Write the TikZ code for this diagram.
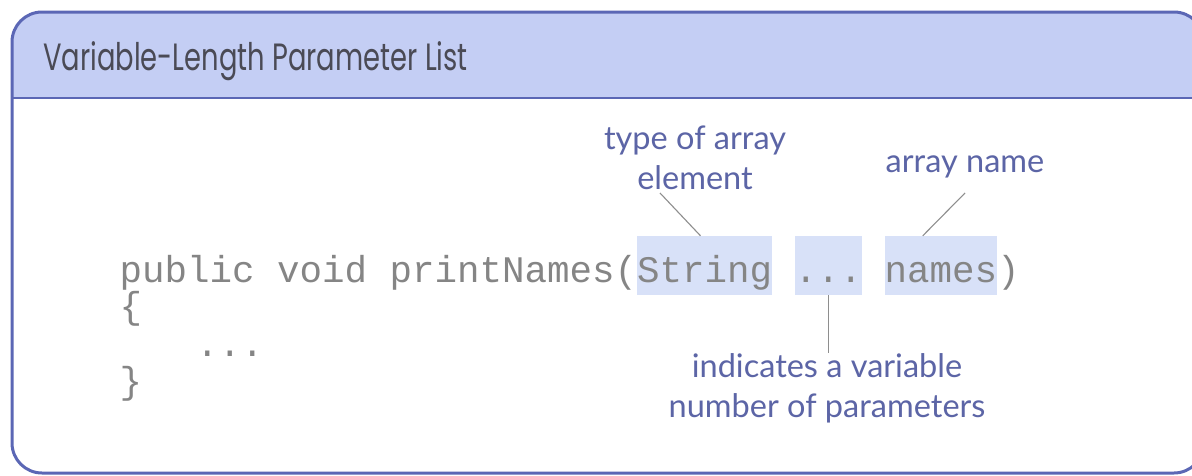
\documentclass[tikz,border=0pt]{standalone}
\usepackage{fontspec}
\setmonofont{Liberation Mono}
\newfontfamily\titlefont{Poppins}
\newfontfamily\annotfont{Lato}
\usetikzlibrary{calc}
\definecolor{frameblue}{HTML}{5B67B5}
\definecolor{headfill}{HTML}{C4CEF4}
\definecolor{hlfill}{HTML}{D8E1F8}
\definecolor{codegray}{HTML}{858585}
\definecolor{annotblue}{HTML}{5C65A6}
\definecolor{titlegray}{HTML}{4A4A55}
\definecolor{linegray}{HTML}{8E8E8E}
\begin{document}
\begin{tikzpicture}[x=1pt,y=-1pt,
  code/.style={font=\fontsize{37.5pt}{40pt}\selectfont\ttfamily, text=codegray, inner sep=0pt, anchor=base west},
  hlbox/.style={fill=hlfill, draw=none, inner sep=0pt, minimum height=59pt},
  annot/.style={font=\annotfont\fontsize{32.5pt}{40pt}\selectfont, text=annotblue, align=center, inner sep=0pt, anchor=base},
  conn/.style={draw=linegray, line width=1.1pt}]
\useasboundingbox (0,0) rectangle (1192,475);
\fill[white] (0,0) rectangle (1192,475);
% frame
\fill[white, rounded corners=30pt] (12,12) rectangle (1204,473);
\begin{scope}
  \clip[rounded corners=30pt] (12,12) rectangle (1204,473);
  \fill[headfill] (0,0) rectangle (1210,98);
  \draw[frameblue, line width=2.5pt] (0,98) -- (1210,98);
\end{scope}
\draw[frameblue, line width=3pt, rounded corners=30pt] (12,12) rectangle (1204,473);
% title
\node[font=\titlefont\fontsize{38pt}{40pt}\selectfont, text=titlegray, anchor=base west, inner sep=0pt, xscale=0.72] (title) at (43,70) {Variable-Length Parameter List};
% highlight boxes
\node[hlbox, minimum width=135pt] (sbox) at (704.5,265.5) {};
\node[hlbox, minimum width=67.5pt] (dbox) at (828.25,265.5) {};
\node[hlbox, minimum width=112.5pt] (nbox) at (940.75,265.5) {};
% code
\node[code] (sig) at (119.5,282) {public void printNames(String ... names)};
\node[code] (lbrace) at (119.5,318) {\{};
\node[code] (body) at (196,356) {...};
\node[code] (rbrace) at (119.5,393) {\}};
% annotations
\node[annot] (tA) at (695,189) {type of array\\element};
\node[annot] (aN) at (965,172) {array name};
\node[annot] (iV) at (827,417) {indicates a variable\\number of parameters};
% connectors
\coordinate (c1) at (660,193);
\coordinate (c2) at (965,193);
\draw[conn] (c1) -- ($(sbox.north)+(-4,0)$);
\draw[conn] (c2) -- ($(nbox.north)+(-18,0)$);
\draw[conn] (dbox.south) -- ($(dbox.south)+(0,58)$);
\end{tikzpicture}
\end{document}
